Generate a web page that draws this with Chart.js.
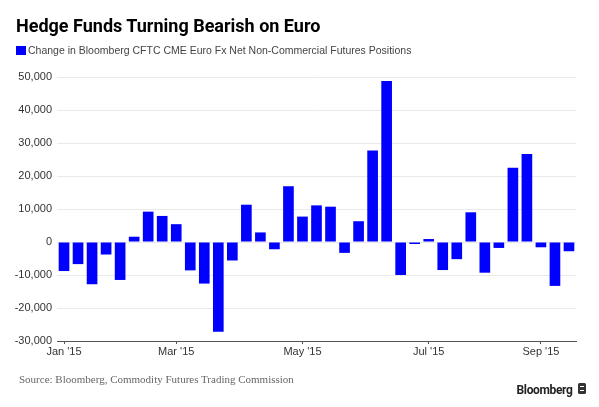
<!DOCTYPE html>
<html>
<head>
<meta charset="utf-8">
<script src="https://cdn.jsdelivr.net/npm/chart.js@4/dist/chart.umd.min.js"></script>
<style>
  html, body { margin: 0; padding: 0; background: #fff; }
  body { width: 599px; height: 407px; position: relative; overflow: hidden; font-family: "Liberation Sans", Arial, sans-serif; }
  #c { position: absolute; left: 0; top: 0; }
  .t { position: absolute; white-space: nowrap; line-height: 1; }
  #title { left: 16px; top: 16.5px; font-size: 18px; font-weight: bold; color: #000; font-family: Roboto, "Liberation Sans", sans-serif; }
  #legbox { position: absolute; left: 16px; top: 46px; width: 10px; height: 9px; background: #0000ff; }
  #legtxt { left: 28px; top: 45px; font-size: 10.5px; color: #444; }
  #source { left: 19px; top: 373.5px; font-size: 11px; color: #666; font-family: "Liberation Serif", "DejaVu Serif", serif; }
  #brand { left: 516.5px; top: 383.6px; font-size: 12px; letter-spacing: -0.35px; font-weight: bold; color: #222; font-family: Roboto, "Liberation Sans", sans-serif; }
  #logo { position: absolute; left: 578px; top: 383px; width: 8px; height: 11px; background: #333; border-radius: 1.5px; }
  #logo i { position: absolute; left: 2px; top: 3px; width: 4px; height: 5px; border-top: 1px solid #fff; border-bottom: 1px solid #fff; box-sizing: border-box; }
</style>
</head>
<body>
<canvas id="c" width="599" height="407"></canvas>
<div class="t" id="title">Hedge Funds Turning Bearish on Euro</div>
<div id="legbox"></div>
<div class="t" id="legtxt">Change in Bloomberg CFTC CME Euro Fx Net Non-Commercial Futures Positions</div>
<div class="t" id="source">Source: Bloomberg, Commodity Futures Trading Commission</div>
<div class="t" id="brand">Bloomberg</div>
<div id="logo"><i></i></div>
<script>
// Weekly report dates (categories)
const dates = [
  '2015-01-06','2015-01-13','2015-01-20','2015-01-27','2015-02-03','2015-02-10','2015-02-17','2015-02-24',
  '2015-03-03','2015-03-10','2015-03-17','2015-03-24','2015-03-31','2015-04-07','2015-04-14','2015-04-21',
  '2015-04-28','2015-05-05','2015-05-12','2015-05-19','2015-05-26','2015-06-02','2015-06-09','2015-06-16',
  '2015-06-23','2015-06-30','2015-07-07','2015-07-14','2015-07-21','2015-07-28','2015-08-04','2015-08-11',
  '2015-08-18','2015-08-25','2015-09-01','2015-09-08','2015-09-15'
];
// Change in net non-commercial positions (contracts)
const changes = [
  -8800, -6700, -12800, -3800, -11500, 1600, 9200, 7900,
  5400, -8600, -12600, -27200, -5600, 11300, 2900, -2200,
  16900, 7700, 11100, 10700, -3300, 6300, 27700, 48800,
  -10000, -600, 900, -8500, -5200, 9000, -9300, -1800,
  22500, 26700, -1600, -13300, -2800
];
// X-axis tick labels and the dates they sit on
const tickDates = ['2015-01-06', '2015-03-03', '2015-05-05', '2015-07-07', '2015-09-01'];
const tickLabels = ["Jan '15", "Mar '15", "May '15", "Jul '15", "Sep '15"];
// Y-axis range
const yMin = -30000, yMax = 50000, yStep = 10000;

const tickMap = {};
tickDates.forEach((d, i) => { tickMap[d] = tickLabels[i]; });

const axisFont = { family: '"Liberation Sans", Arial, sans-serif', size: 11 };

new Chart(document.getElementById('c'), {
  type: 'bar',
  data: {
    labels: dates,
    datasets: [{
      data: changes,
      backgroundColor: '#0000ff',
      borderWidth: 0,
      barPercentage: 0.76,
      categoryPercentage: 1.0
    }]
  },
  options: {
    responsive: false,
    animation: false,
    events: [],
    layout: { padding: { top: 77, right: 23, bottom: 46, left: 0 } },
    plugins: { legend: { display: false }, title: { display: false }, tooltip: { enabled: false } },
    scales: {
      x: {
        type: 'category',
        offset: true,
        border: { display: true, color: '#555', width: 1 },
        grid: {
          offset: false,
          drawOnChartArea: false,
          drawTicks: true,
          tickLength: 3,
          tickColor: (ctx) => (tickMap[dates[ctx.index]] ? '#555' : 'rgba(0,0,0,0)')
        },
        ticks: {
          autoSkip: false,
          maxRotation: 0,
          minRotation: 0,
          padding: 1,
          color: '#333',
          font: axisFont,
          callback: (v, i) => tickMap[dates[i]] || ''
        },
        afterFit: (s) => { s.height = 20; }
      },
      y: {
        min: yMin,
        max: yMax,
        border: { display: false },
        grid: { color: '#e9e9e9', lineWidth: 1, drawTicks: false },
        ticks: {
          stepSize: yStep,
          padding: 5,
          color: '#333',
          font: axisFont,
          callback: (v) => v.toLocaleString('en-US')
        },
        afterFit: (s) => { s.width = 57; }
      }
    }
  }
});
</script>
</body>
</html>
